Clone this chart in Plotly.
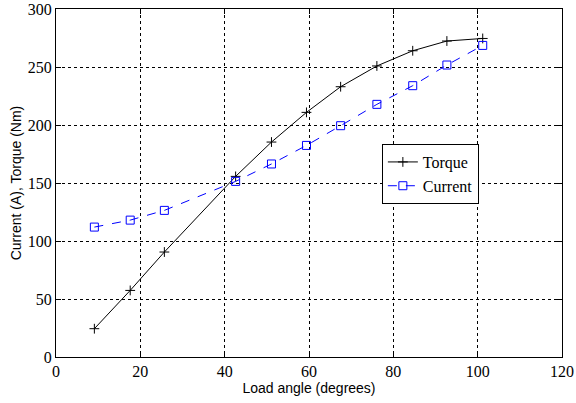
import plotly.graph_objects as go

load_angle = [9.1, 17.6, 25.7, 42.6, 51.1, 59.4, 67.5, 76.1, 84.6, 92.7, 101.2]
torque = [24.4, 57.4, 90.5, 155.7, 185.3, 210.9, 233.0, 250.9, 264.0, 272.4, 274.6]
current = [112.0, 118.0, 126.4, 151.4, 166.4, 182.4, 199.4, 217.8, 233.9, 251.7, 268.6]

fig = go.Figure()
fig.add_trace(go.Scatter(
    x=load_angle, y=torque, name="Torque", mode="lines+markers",
    line=dict(color="black", width=1),
    marker=dict(symbol="cross-thin-open", size=7, color="black", line=dict(color="black", width=1)),
))
fig.add_trace(go.Scatter(
    x=load_angle, y=current, name="Current", mode="lines+markers",
    line=dict(color="blue", width=1, dash="dash"),
    marker=dict(symbol="square-open", size=8, color="blue", line=dict(color="blue", width=1)),
))

axis_common = dict(
    showgrid=True, gridcolor="black", griddash="dot", gridwidth=1,
    showline=True, linecolor="black", linewidth=1, mirror="ticks",
    ticks="inside", ticklen=5, tickcolor="black",
    tickfont=dict(family="Liberation Serif", size=16, color="black"),
    zeroline=False, automargin=False,
)
fig.update_xaxes(range=[0, 120], dtick=20,
                 title=dict(text="Load angle (degrees)", font=dict(family="Liberation Sans", size=14, color="black"), standoff=3),
                 **axis_common)
fig.update_yaxes(range=[0, 300], dtick=50,
                 title=dict(text="Current (A), Torque (Nm)", font=dict(family="Liberation Sans", size=14, color="black"), standoff=2),
                 **axis_common)

fig.update_layout(
    width=576, height=403,
    margin=dict(l=56, r=14, t=9, b=46),
    paper_bgcolor="white", plot_bgcolor="white",
    showlegend=True,
    legend=dict(x=0.644, y=0.612, xanchor="left", yanchor="top",
                bgcolor="white", bordercolor="black", borderwidth=1,
                font=dict(family="Liberation Serif", size=16, color="black"),
                tracegroupgap=0, itemwidth=30),
)
fig.write_html("out.html")
